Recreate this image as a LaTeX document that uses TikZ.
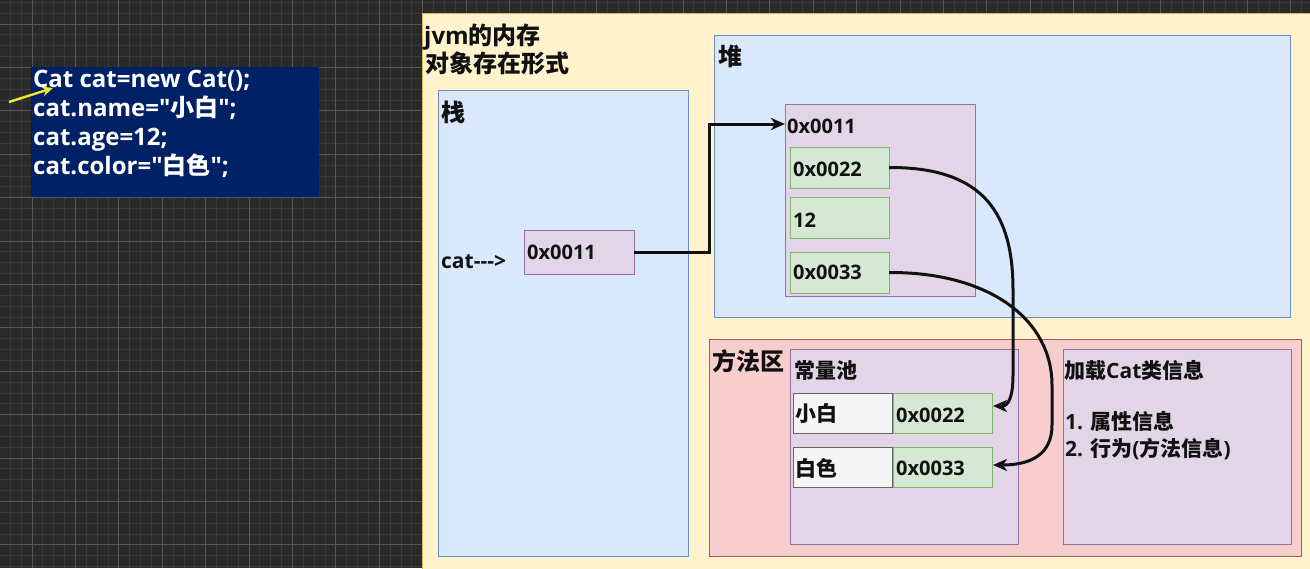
\documentclass[tikz,border=0pt]{standalone}
\usepackage{fontspec}
\setmainfont{Open Sans}[Ligatures=TeXOff]
\newfontfamily\cjk{Noto Sans CJK SC}
\newcommand{\zh}[1]{{\cjk\bfseries #1}}
\usetikzlibrary{arrows.meta}
\definecolor{bgc}{HTML}{2A2A2A}
\definecolor{gridminor}{HTML}{3A3A3A}
\definecolor{gridmajor}{HTML}{575757}
\definecolor{codeblue}{HTML}{002166}
\definecolor{ylwF}{HTML}{FFF2CC}
\definecolor{ylwD}{HTML}{D6B656}
\definecolor{bluF}{HTML}{DAE8FC}
\definecolor{bluD}{HTML}{6C8EBF}
\definecolor{purF}{HTML}{E1D5E7}
\definecolor{purD}{HTML}{9673A6}
\definecolor{grnF}{HTML}{D5E8D4}
\definecolor{grnD}{HTML}{82B366}
\definecolor{redF}{HTML}{F8CECC}
\definecolor{redD}{HTML}{B85450}
\definecolor{whtF}{HTML}{F5F5F5}
\definecolor{whtD}{HTML}{666666}
\definecolor{ink}{HTML}{111111}
\definecolor{cursor}{HTML}{F2E635}
\begin{document}
\begin{tikzpicture}[x=1pt,y=-1pt,
  box/.style={draw, line width=1pt, anchor=north west, inner sep=0pt, outer sep=0pt},
  bluebox/.style={box, fill=bluF, draw=bluD},
  purbox/.style={box, fill=purF, draw=purD},
  grnbox/.style={box, fill=grnF, draw=grnD},
  redbox/.style={box, fill=redF, draw=redD},
  whtbox/.style={box, fill=whtF, draw=whtD},
  lbl/.style={anchor=base west, inner sep=0pt, text=ink, font=\bfseries\fontsize{20}{24}\selectfont},
  head/.style={anchor=base west, inner sep=0pt, text=ink, font=\bfseries\fontsize{24}{28}\selectfont},
  codetxt/.style={anchor=base west, inner sep=0pt, text=white, font=\bfseries\fontsize{24}{29}\selectfont},
  conn/.style={draw=ink, line width=3pt, -{Stealth[length=14pt,width=12pt,inset=4pt]}},
]
\useasboundingbox (0,0) rectangle (1310,568);
% background grid
\fill[bgc] (0,0) rectangle (1310,568);
\foreach \i in {-3,...,118} {\draw[gridminor, line width=0.8pt] ({32+\i*10.85},0) -- ({32+\i*10.85},568);}
\foreach \j in {-2,...,50} {\draw[gridminor, line width=0.8pt] (0,{24+\j*10.85}) -- (1310,{24+\j*10.85});}
\foreach \i in {-1,...,30} {\draw[gridmajor, line width=1pt] ({32+\i*43.4},0) -- ({32+\i*43.4},568);}
\foreach \j in {-1,...,13} {\draw[gridmajor, line width=1pt] (0,{24+\j*43.4}) -- (1310,{24+\j*43.4});}

% code box
\node[box, draw=none, fill=codeblue, minimum width=288pt, minimum height=130pt] (code) at (31,67) {};
\node[codetxt] (c1) at (33,87) {Cat cat=new Cat();};
\node[codetxt] (c2) at (33,116) {cat.name="\zh{小白}";};
\node[codetxt] (c3) at (33,145) {cat.age=12;};
\node[codetxt] (c4) at (33,174) {cat.color="\zh{白色}";};
\coordinate (ya) at (9,102);
\coordinate (yb) at (53,88);
\draw[cursor, line width=2.4pt, -{Stealth[length=11pt,width=10pt]}] (ya) -- (yb);

% jvm area
\node[box, fill=ylwF, draw=ylwD, minimum width=900pt, minimum height=600pt] (jvm) at (422,13) {};
\node[head] (t1) at (424,44) {jvm\zh{的内存}};
\node[head] (t2) at (425,72) {\zh{对象存在形式}};

% stack
\node[bluebox, minimum width=250pt, minimum height=466pt] (stack) at (438,90) {};
\node[head] (stl) at (441,121) {\zh{栈}};
\node[lbl, font=\bfseries\fontsize{21}{26}\selectfont] (catl) at (441,268) {cat--->};
\node[purbox, minimum width=110pt, minimum height=44pt] (scell) at (524,230) {};
\node[lbl] (scellt) at (527,259) {0x0011};

% heap
\node[bluebox, minimum width=576pt, minimum height=282pt] (heap) at (714,35) {};
\node[head] (hl) at (718,65) {\zh{堆}};
\node[purbox, minimum width=190pt, minimum height=192pt] (obj) at (785,104) {};
\node[lbl] (objt) at (787,133) {0x0011};
\node[grnbox, minimum width=99pt, minimum height=41pt] (g1) at (790,147) {};
\node[grnbox, minimum width=99pt, minimum height=41pt] (g2) at (790,197) {};
\node[grnbox, minimum width=99pt, minimum height=41pt] (g3) at (790,252) {};
\node[lbl] (g1t) at (793,176) {0x0022};
\node[lbl] (g2t) at (793,227) {12};
\node[lbl] (g3t) at (793,279) {0x0033};

% method area
\node[redbox, minimum width=592pt, minimum height=217pt] (meth) at (709,339) {};
\node[head] (ml) at (712,370) {\zh{方法区}};
\node[purbox, minimum width=228pt, minimum height=195pt] (pool) at (790,349) {};
\node[lbl, font=\bfseries\fontsize{21}{25}\selectfont] (pooll) at (794,378) {\zh{常量池}};
\node[whtbox, minimum width=99pt, minimum height=40pt] (w1) at (793,393) {};
\node[grnbox, minimum width=99pt, minimum height=40pt] (p1) at (893,393) {};
\node[whtbox, minimum width=99pt, minimum height=40pt] (w2) at (793,447) {};
\node[grnbox, minimum width=99pt, minimum height=40pt] (p2) at (893,447) {};
\node[lbl, font=\bfseries\fontsize{21}{25}\selectfont] (w1t) at (795,421) {\zh{小白}};
\node[lbl] (p1t) at (896,422) {0x0022};
\node[lbl, font=\bfseries\fontsize{21}{25}\selectfont] (w2t) at (795,476) {\zh{白色}};
\node[lbl] (p2t) at (896,475) {0x0033};
\node[purbox, minimum width=228pt, minimum height=195pt] (cls) at (1063,349) {};
\node[lbl, font=\bfseries\fontsize{21}{25}\selectfont] (clst) at (1064,378) {\zh{加载}Cat\zh{类信息}};
\node[lbl, font=\bfseries\fontsize{21}{25}\selectfont] (cls1) at (1065,429) {1. \zh{属性信息}};
\node[lbl, font=\bfseries\fontsize{21}{25}\selectfont] (cls2) at (1065,456) {2. \zh{行为}(\zh{方法信息})};

% connectors
\coordinate (objin) at (785,124);
\coordinate (pin1) at (993,406);
\coordinate (pin2) at (993,465);
\draw[conn] (scell.east) -- ++(75,0) |- (objin);
\draw[conn] (g1.east) .. controls (985,167) and (1013,215) .. (1013,290) -- (1013,375) .. controls (1013,398) and (1008,406) .. (pin1);
\draw[conn] (g3.east) .. controls (990,272) and (1052,320) .. (1052,385) -- (1052,425) .. controls (1052,455) and (1030,465) .. (pin2);
\end{tikzpicture}
\end{document}
